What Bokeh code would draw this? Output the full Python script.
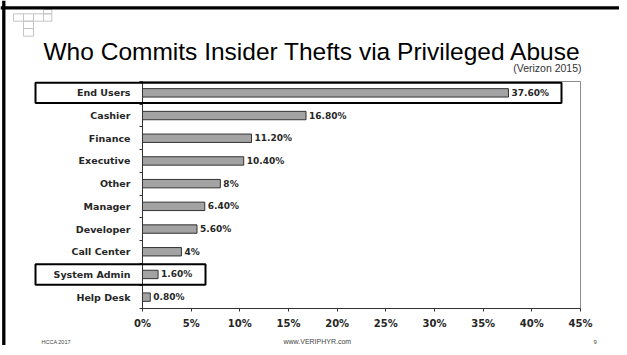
from bokeh.plotting import figure
from bokeh.models import Range1d, FixedTicker, BoxAnnotation, Label, ColumnDataSource, LinearAxis, Span
from bokeh.embed import file_html
from bokeh.resources import INLINE
from bokeh.core.properties import value

# ---- data ----
categories = ["End Users", "Cashier", "Finance", "Executive", "Other",
              "Manager", "Developer", "Call Center", "System Admin", "Help Desk"]
values = [37.6, 16.8, 11.2, 10.4, 8.0, 6.4, 5.6, 4.0, 1.6, 0.8]
value_labels = ["37.60%", "16.80%", "11.20%", "10.40%", "8%",
                "6.40%", "5.60%", "4%", "1.60%", "0.80%"]
x_ticks = [0, 5, 10, 15, 20, 25, 30, 35, 40, 45]
x_tick_labels = ["0%", "5%", "10%", "15%", "20%", "25%", "30%", "35%", "40%", "45%"]
highlighted = ["End Users", "System Admin"]
title_text = "Who Commits Insider Thefts via Privileged Abuse"
source_text = "(Verizon 2015)"
footer_left = "HCCA 2017"
footer_center = "www.VERIPHYR.com"
footer_right = "9"

# ---- layout (pixels of the canvas) ----
W, H = 619, 345
AX_L, AX_R, AX_T, AX_B = 142, 580, 81, 308   # plot-area edges

n = len(categories)
ypos = [n - 1 - i for i in range(n)]
bounds = [k - 0.5 for k in range(n + 1)]

xmin, xmax = x_ticks[0], x_ticks[-1]
kx = (AX_R - AX_L) / (xmax - xmin)          # px per x unit
ky = (AX_B - AX_T) / n                      # px per category
x_range = Range1d(xmin - AX_L / kx, xmax + (W - AX_R) / kx)
y_range = Range1d(-0.5 - (H - AX_B) / ky, n - 0.5 + AX_T / ky)

p = figure(width=W, height=H, x_range=x_range, y_range=y_range,
           output_backend="svg", toolbar_location=None,
           x_axis_location=None, y_axis_location=None, min_border=0)
p.background_fill_color = "white"
p.border_fill_color = "white"
p.outline_line_color = None
p.xgrid.visible = False
p.ygrid.visible = False

# grey border of the plot area (left/bottom get covered by the axes)
p.add_layout(BoxAnnotation(left=xmin, right=xmax, bottom=-0.5, top=n - 0.5,
                           fill_alpha=0, line_color="#8c8c8c", line_alpha=1,
                           line_width=1, level="underlay"))

src = ColumnDataSource(dict(y=ypos, v=values, lab=value_labels))
p.hbar(y="y", left=0, right="v", height=0.37, source=src,
       fill_color="#a3a3a3", line_color="#333333", line_width=1)
p.text(x="v", y="y", text="lab", source=src, x_offset=3,
       text_baseline="middle", text_align="left",
       text_font=value("DejaVu Sans"), text_font_style="bold",
       text_font_size="9px", text_color="#262626")

# ---- axes drawn at fixed locations ----
xa = LinearAxis(fixed_location=-0.5, bounds=(xmin, xmax),
                ticker=FixedTicker(ticks=x_ticks),
                major_label_overrides=dict(zip(x_ticks, x_tick_labels)))
xa.axis_line_color = "#333333"
xa.major_tick_line_color = "#333333"
xa.major_tick_out = 3
xa.major_tick_in = 0
xa.minor_tick_out = 0
xa.minor_tick_in = 0
xa.major_label_standoff = 6
xa.major_label_text_font = "DejaVu Sans"
xa.major_label_text_font_style = "bold"
xa.major_label_text_font_size = "10px"
xa.major_label_text_color = "#262626"
p.add_layout(xa, "below")

ya = LinearAxis(fixed_location=xmin, bounds=(-0.5, n - 0.5),
                ticker=FixedTicker(ticks=ypos, minor_ticks=bounds),
                major_label_overrides=dict(zip(ypos, categories)))
ya.axis_line_color = "#333333"
ya.major_tick_out = 0
ya.major_tick_in = 0
ya.minor_tick_out = 3
ya.minor_tick_in = 0
ya.minor_tick_line_color = "#333333"
ya.major_label_standoff = 9
ya.major_label_text_font = "DejaVu Sans"
ya.major_label_text_font_style = "bold"
ya.major_label_text_font_size = "9.5px"
ya.major_label_text_color = "#262626"
p.add_layout(ya, "left")

# ---- highlight boxes around selected categories ----
def px_to_x(px):
    return xmin + (px - AX_L) / kx

box_right = {"End Users": px_to_x(561), "System Admin": px_to_x(205)}
for cat in highlighted:
    yc = ypos[categories.index(cat)]
    p.add_layout(BoxAnnotation(left=px_to_x(35), right=box_right[cat],
                               bottom=yc - 0.45, top=yc + 0.45,
                               fill_alpha=0, line_color="black", line_alpha=1,
                               line_width=2, level="overlay"))

# ---- texts (screen units: from left, from bottom of canvas) ----
def sy(py):
    return H - py

p.add_layout(Label(x=43, y=sy(51), text=title_text, x_units="screen", y_units="screen",
                   text_font="Liberation Sans", text_font_size="24.5px", text_color="black",
                   text_baseline="alphabetic", text_align="left"))
p.add_layout(Label(x=581, y=sy(67), text=source_text, x_units="screen", y_units="screen",
                   text_font="Liberation Sans", text_font_size="10.5px", text_color="#333333",
                   text_baseline="alphabetic", text_align="right"))
for txt, xx, fs in [(footer_left, 41, "5.5px"), (footer_center, 283, "7px"), (footer_right, 593, "6px")]:
    p.add_layout(Label(x=xx, y=sy(341), text=txt, x_units="screen", y_units="screen",
                       text_font="Liberation Sans", text_font_size=fs, text_color="#444444",
                       text_baseline="alphabetic", text_align="left"))

# ---- slide decorations ----
def sbox(l, t, r, b, **kw):
    p.add_layout(BoxAnnotation(left=l, right=r, top=sy(t), bottom=sy(b),
                               left_units="screen", right_units="screen",
                               top_units="screen", bottom_units="screen", **kw))

deco = dict(fill_alpha=0, line_color="#c4c4c4", line_alpha=1, line_width=1)
sbox(43, 9, 51.3, 13.3, **deco)
sbox(13, 13.3, 23, 20.7, **deco)
sbox(23, 13.3, 33, 20.7, **deco)
sbox(33, 13.3, 43, 20.7, **deco)
sbox(43, 13.3, 51.3, 20.7, **deco)
sbox(23, 20.7, 33, 28, **deco)
sbox(23, 28, 33, 35.7, **deco)

# slide frame lines (top and left)
p.add_layout(Span(location=sy(7.3), location_units="screen", dimension="width",
                  line_color="black", line_width=3.3))
p.add_layout(Span(location=3.3, location_units="screen", dimension="height",
                  line_color="black", line_width=3.3))

open("out.html", "w").write(file_html(p, INLINE))
